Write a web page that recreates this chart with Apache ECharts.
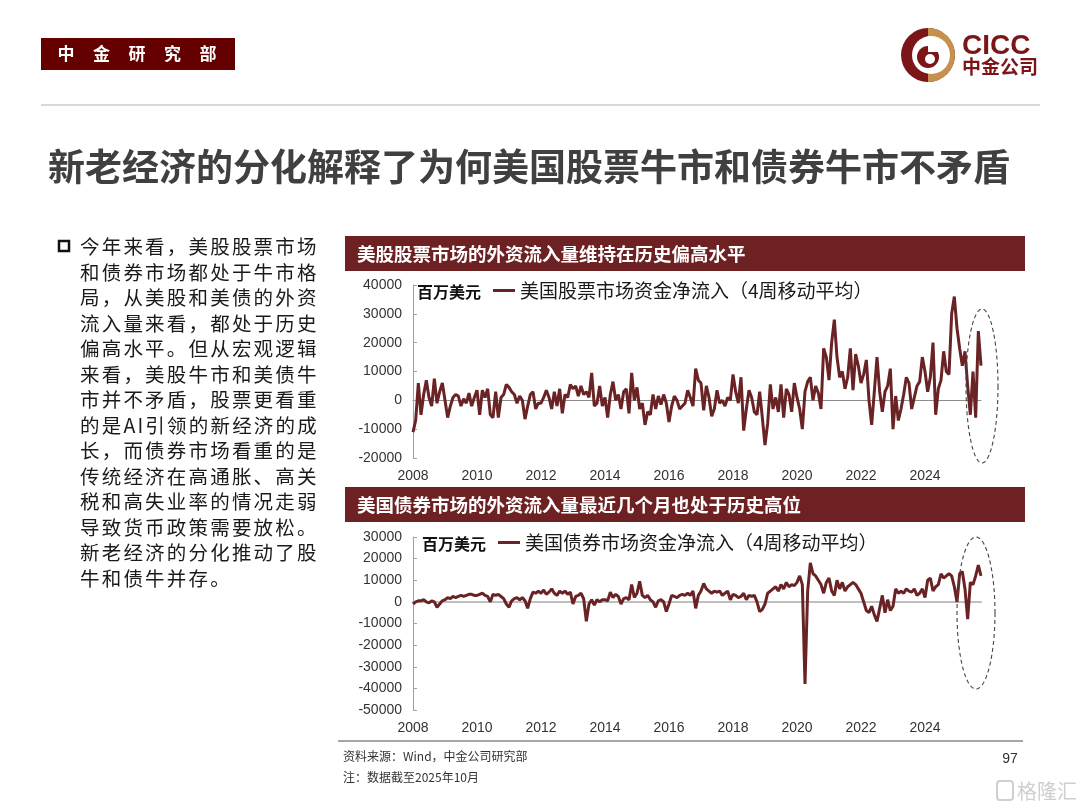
<!DOCTYPE html>
<html>
<head>
<meta charset="utf-8">
<script src="https://cdn.jsdelivr.net/npm/echarts@6/dist/echarts.min.js"></script>
<style>
html,body{margin:0;padding:0;background:#fff;}
#wrap{position:relative;width:1080px;height:810px;overflow:hidden;}
#c{position:absolute;left:0;top:0;width:1080px;height:810px;}
#para{position:absolute;left:80px;top:233px;font-family:"Noto Sans CJK SC","Liberation Sans",sans-serif;font-size:19.5px;letter-spacing:2.2px;line-height:25.5px;color:#1a1a1a;white-space:nowrap;}
</style>
</head>
<body>
<div id="wrap">
<div id="c"></div>
<div id="para">今年来看，美股股票市场<br>和债券市场都处于牛市格<br>局，从美股和美债的外资<br>流入量来看，都处于历史<br>偏高水平。但从宏观逻辑<br>来看，美股牛市和美债牛<br>市并不矛盾，股票更看重<br>的是AI引领的新经济的成<br>长，而债券市场看重的是<br>传统经济在高通胀、高关<br>税和高失业率的情况走弱<br>导致货币政策需要放松。<br>新老经济的分化推动了股<br>牛和债牛并存。</div>
</div>
<script>
// ---- Data (monthly, 2008-01 .. 2025-10), 百万美元 ----
const stockFlows = [
  -11000, -7000, 6000, -5000, 2000, 7000, 1000, -2000, 7500, -1000, 3000, 6000,   // 2008
  0, -6000, -2000, 1000, 2000, 1500, -2000, 500, -1000, 2500, -2000, 1000,         // 2009
  3500, -5000, 3500, 1000, 4000, -5000, -6000, 3000, -6000, 1000, 2000, 5500,     // 2010
  4500, 3000, 2000, -1000, 1500, 0, -6500, -2000, 2000, 3000, -3000, -1000,       // 2011
  -1000, 1000, 3500, 1000, -3000, 3000, -2000, 4000, -4500, 2000, 1000, 5500,     // 2012
  4000, 5000, 1500, 5000, 2000, 3000, 1000, 9500, -2000, -1000, 5000, -2000,      // 2013
  1000, -6000, 2000, 6500, 0, 2000, -3000, 3000, 4000, -4500, 9500, 0,            // 2014
  4500, -3000, -1000, -8500, -4000, -5000, 2000, -3000, 1500, -1500, 2000, -1000, // 2015
  -7500, -2000, 1500, 0, -3000, -2000, -1000, 3500, 1000, -2000, 11000, 7000,     // 2016
  6000, -3500, 5000, 1000, -5500, -3000, 3500, -1000, 0, -2000, 1000, 0,          // 2017
  9000, 3000, -1000, 8000, -10500, -3000, 3500, 1000, -4000, -5000, 3000, -6000,  // 2018
  -15500, -8000, 5500, -3000, 1000, -4000, 5500, -6000, 4000, 2000, -4000, 6000,  // 2019
  1000, -3000, -10000, 3000, 6500, 8000, 0, 5000, 2500, -3000, 18000, 15000,      // 2020
  7000, 20000, 28000, 15000, 8000, 10000, 4000, 8000, 18000, 3500, 16000, 12000,  // 2021
  6000, 9000, 14000, 0, -8500, 3000, 15000, 3000, -4000, 3000, 5000, 11000,       // 2022
  -10000, 1500, -7000, -3000, 2000, 8000, 6000, -3000, 1000, 5000, 6500, 15000,   // 2023
  10000, 3000, 8000, 20000, -5000, 4000, 7000, 17000, 10000, 9000, 30000, 36000,  // 2024
  25000, 18000, 12000, 17000, 5000, -5000, 10000, -6000, 24000, 12000             // 2025
];
const bondFlows = [
  -1000, 0, 500, 500, 1000, 0, -500, 500, 0, -2500, -1000, 500,                   // 2008
  1000, 2000, 1500, 2500, 2000, 2500, 3000, 2500, 3000, 3500, 3500, 3000,         // 2009
  3000, 3500, 4000, 3000, 2500, 0, 3500, 3000, 3500, 2500, 1500, -1000,           // 2010
  -2500, 500, 1500, 2000, 1000, 2000, 500, -3000, 1500, 4500, 4000, 5000,         // 2011
  4000, 5500, 3500, 4500, 6000, 4000, 3000, 5000, 4000, 5000, 3500, 4500,         // 2012
  -1000, 2500, 3000, 4000, 1500, -9000, -1000, 1000, -1500, 1000, 0, 1000,        // 2013
  1000, 500, 4500, 2000, 3500, 2500, -1000, 1500, 2000, 1000, 8000, 2000,         // 2014
  4000, 9500, 3000, 2000, 3000, 1000, 0, -2500, 500, 1000, 0, -4500,              // 2015
  -1000, 3000, 2500, 2000, 3000, 3500, 3000, 4000, 3000, 5000, -3000, 3000,       // 2016
  5000, 8500, 6000, 5000, 4000, 5000, 4500, 5000, 3000, 4000, 5000, 1000,         // 2017
  3500, 3000, 2000, 2500, 4000, 1000, 3000, 2500, 3000, 0, -4500, -3500,          // 2018
  -1000, 4000, 5000, 6000, 7000, 5000, 8000, 6000, 9000, 7000, 8000, 7500,        // 2019
  9000, 12000, 8000, -38000, 5000, 18000, 13000, 12000, 10000, 8000, 4000, 9000,  // 2020
  11000, 5000, 3000, 10000, 6000, 9000, 5000, 7000, 8000, 9000, 8000, 6000,       // 2021
  4000, 0, -4000, -5000, -2000, -6000, -9000, -3000, 3000, -5000, 1000, -4000,    // 2022
  -2000, 6000, 4000, 5000, 4000, 6000, 5000, 4500, 6000, 3000, 4000, 6000,        // 2023
  2000, 10000, 11000, 5000, 7000, 8000, 13000, 11000, 12000, 13000, 12000, 7000,  // 2024
  0, 13000, 14000, 6000, -8000, 9000, 8000, 12000, 17000, 12000                   // 2025
];
const firstYear = 2008, lastYear = 2025, lastMonth = 10;
const months = [];
for (let y = firstYear; y <= lastYear; y++) {
  for (let m = 1; m <= 12; m++) {
    if (y === lastYear && m > lastMonth) break;
    months.push(y + '-' + (m < 10 ? '0' + m : m));
  }
}
const yTicks1 = {min: -20000, max: 40000, interval: 10000};
const yTicks2 = {min: -50000, max: 30000, interval: 10000};
const stockName = '美国股票市场资金净流入（4周移动平均）';
const bondName = '美国债券市场资金净流入（4周移动平均）';
const unitLabel = '百万美元';

// ---- Styling ----
const LINE_COLOR = '#6A2325';
const BAR_COLOR = '#6D2123';
const NUM_FONT = '"Liberation Sans", "Noto Sans CJK SC", sans-serif';
const CJK_FONT = '"Noto Sans CJK SC", "Liberation Sans", sans-serif';

function ellipsePoints(cx, cy, rx, ry) {
  const pts = [];
  for (let i = 0; i < 120; i++) {
    const a = i / 120 * Math.PI * 2;
    pts.push([cx + rx * Math.cos(a), cy + ry * Math.sin(a)]);
  }
  return pts;
}

const chart = echarts.init(document.getElementById('c'));

function xAxisLabels(grid) {
  return {
    gridIndex: grid, type: 'category', data: months, boundaryGap: false,
    axisLine: {show: false, onZero: false}, axisTick: {show: false},
    axisLabel: {interval: 23, formatter: v => v.slice(0, 4), fontSize: 14, color: '#333',
                fontFamily: NUM_FONT, margin: 11}
  };
}
function xAxisZero(grid, color, width) {
  return {
    gridIndex: grid, type: 'category', data: months, boundaryGap: false, position: 'bottom',
    axisLine: {show: true, onZero: true, lineStyle: {color: color, width: width}},
    axisTick: {show: false}, axisLabel: {show: false}, splitLine: {show: false}
  };
}
function yAxisDef(grid, t) {
  return {
    gridIndex: grid, type: 'value', min: t.min, max: t.max, interval: t.interval,
    axisLine: {show: true, lineStyle: {color: '#a0a0a0', width: 1}},
    axisTick: {show: true, inside: true, length: 4, lineStyle: {color: '#a0a0a0'}},
    splitLine: {show: false},
    axisLabel: {fontSize: 14, color: '#333', fontFamily: NUM_FONT, margin: 11,
                formatter: v => String(v)}
  };
}

const option = {
  animation: false,
  textStyle: {fontFamily: CJK_FONT},
  grid: [
    {left: 413, top: 285, width: 568, height: 173},
    {left: 413, top: 537, width: 568, height: 173}
  ],
  xAxis: [xAxisLabels(0), xAxisLabels(1), xAxisZero(0, '#8c8c8c', 1), xAxisZero(1, '#bfbfbf', 2)],
  yAxis: [yAxisDef(0, yTicks1), yAxisDef(1, yTicks2)],
  legend: [
    {data: [stockName], left: 493, top: 281, padding: 0, icon: 'rect', itemWidth: 22, itemHeight: 3,
     textStyle: {fontSize: 19, color: '#1a1a1a', fontFamily: CJK_FONT}, selectedMode: false},
    {data: [bondName], left: 498, top: 533, padding: 0, icon: 'rect', itemWidth: 22, itemHeight: 3,
     textStyle: {fontSize: 19, color: '#1a1a1a', fontFamily: CJK_FONT}, selectedMode: false}
  ],
  series: [
    {type: 'line', name: stockName, xAxisIndex: 0, yAxisIndex: 0, data: stockFlows,
     symbol: 'none', lineStyle: {width: 3, color: LINE_COLOR}, itemStyle: {color: LINE_COLOR}, z: 3},
    {type: 'line', name: bondName, xAxisIndex: 1, yAxisIndex: 1, data: bondFlows,
     symbol: 'none', lineStyle: {width: 3, color: LINE_COLOR}, itemStyle: {color: LINE_COLOR}, z: 3}
  ],
  graphic: [
    // header box
    {type: 'rect', shape: {x: 41, y: 38, width: 194, height: 32}, style: {fill: '#650000'}},
    ...['中', '金', '研', '究', '部'].map((ch, i) => ({
      type: 'text', x: 66 + i * 35.5, y: 54,
      style: {text: ch, fill: '#fff', font: 'bold 17px ' + CJK_FONT, align: 'center', verticalAlign: 'middle'}
    })),
    // logo
    {type: 'circle', shape: {cx: 928, cy: 55, r: 27}, style: {fill: '#7B1517'}},
    {type: 'sector', shape: {cx: 928, cy: 55, r: 27, r0: 0, startAngle: -Math.PI / 2, endAngle: Math.PI / 2}, style: {fill: '#C6914E'}},
    {type: 'circle', shape: {cx: 931, cy: 55, r: 19}, style: {fill: '#fff'}},
    {type: 'circle', shape: {cx: 928, cy: 57, r: 11}, style: {fill: '#7B1517'}},
    {type: 'circle', shape: {cx: 930, cy: 59, r: 5}, style: {fill: '#fff'}},
    {type: 'rect', shape: {x: 928, y: 40, width: 10, height: 12}, style: {fill: '#fff'}},
    {type: 'text', x: 962, y: 46, style: {text: 'CICC', fill: '#7B1517', font: 'bold 28px ' + NUM_FONT, verticalAlign: 'middle'}},
    {type: 'text', x: 962, y: 67, style: {text: '中金公司', fill: '#7B1517', font: 'bold 19px ' + CJK_FONT, verticalAlign: 'middle'}},
    // rule
    {type: 'line', shape: {x1: 41, y1: 105, x2: 1040, y2: 105}, style: {stroke: '#d9d9d9', lineWidth: 2}},
    // title
    {type: 'text', x: 48, y: 167, style: {text: '新老经济的分化解释了为何美国股票牛市和债券牛市不矛盾', fill: '#404040', font: 'bold 37px ' + CJK_FONT, verticalAlign: 'middle'}},
    // bullet
    {type: 'rect', shape: {x: 59, y: 241, width: 10, height: 10}, style: {fill: '#fff', stroke: '#111', lineWidth: 2.5}},
    // chart title bars
    {type: 'rect', shape: {x: 345, y: 236, width: 680, height: 35}, style: {fill: BAR_COLOR}},
    {type: 'text', x: 357, y: 254, style: {text: '美股股票市场的外资流入量维持在历史偏高水平', fill: '#fff', font: 'bold 18.5px ' + CJK_FONT, verticalAlign: 'middle'}},
    {type: 'rect', shape: {x: 345, y: 487, width: 680, height: 35}, style: {fill: BAR_COLOR}},
    {type: 'text', x: 357, y: 505, style: {text: '美国债券市场的外资流入量最近几个月也处于历史高位', fill: '#fff', font: 'bold 18.5px ' + CJK_FONT, verticalAlign: 'middle'}},
    // unit labels
    {type: 'text', x: 417, y: 292, z: 10, style: {text: unitLabel, fill: '#111', font: 'bold 16px ' + CJK_FONT, verticalAlign: 'middle'}},
    {type: 'text', x: 422, y: 544, z: 10, style: {text: unitLabel, fill: '#111', font: 'bold 16px ' + CJK_FONT, verticalAlign: 'middle'}},
    // dashed ellipses
    {type: 'polygon', z: 10, shape: {points: ellipsePoints(982, 386, 16, 77)}, style: {fill: 'none', stroke: '#444', lineWidth: 1.1, lineDash: [4, 3]}},
    {type: 'polygon', z: 10, shape: {points: ellipsePoints(976, 613, 19, 76)}, style: {fill: 'none', stroke: '#444', lineWidth: 1.1, lineDash: [4, 3]}},
    // footer
    {type: 'line', shape: {x1: 338, y1: 741, x2: 1023, y2: 741}, style: {stroke: '#a6a6a6', lineWidth: 2}},
    {type: 'text', x: 343, y: 756, style: {text: '资料来源：Wind，中金公司研究部', fill: '#333', font: '12px ' + CJK_FONT, verticalAlign: 'middle'}},
    {type: 'text', x: 343, y: 777, style: {text: '注：数据截至2025年10月', fill: '#333', font: '12px ' + CJK_FONT, verticalAlign: 'middle'}},
    {type: 'text', x: 1010, y: 759, style: {text: '97', fill: '#333', font: '14px ' + NUM_FONT, align: 'center', verticalAlign: 'middle'}},
    // watermark
    {type: 'rect', shape: {x: 997, y: 781, width: 16, height: 19, r: 3}, style: {fill: 'none', stroke: '#cfcfcf', lineWidth: 2}},
    {type: 'text', x: 1017, y: 791, style: {text: '格隆汇', fill: '#cfcfcf', font: '20px ' + CJK_FONT, verticalAlign: 'middle'}}
  ]
};
chart.setOption(option);
</script>
</body>
</html>
